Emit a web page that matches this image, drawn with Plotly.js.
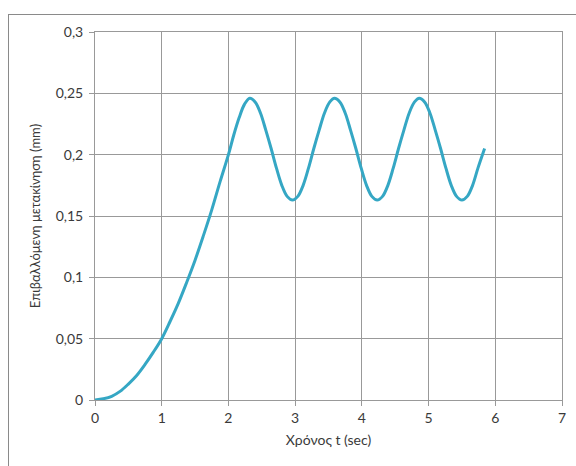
<!DOCTYPE html>
<html><head><meta charset="utf-8">
<script src="https://cdn.plot.ly/plotly-3.0.1.min.js"></script>
<style>
html,body{margin:0;padding:0;background:#fff;}
#wrap{position:relative;width:576px;height:466px;overflow:hidden;}
#chart{width:576px;height:466px;}
#frame{position:absolute;left:8px;top:14px;width:620px;height:520px;border:1.5px solid #8a8a8a;pointer-events:none;}
</style></head>
<body>
<div id="wrap"><div id="chart"></div><div id="frame"></div></div>
<script>
var timeSec = [0, 0.125, 0.25, 0.375, 0.5, 0.625, 0.75, 0.875, 1.0, 1.125, 1.25, 1.375, 1.5, 1.625, 1.75, 1.875, 2.0, 2.08, 2.16, 2.24,
  2.32, 2.40, 2.48, 2.56, 2.64, 2.72, 2.80, 2.88, 2.96, 3.04, 3.12, 3.20, 3.28, 3.36, 3.44, 3.52,
  3.59, 3.67, 3.75, 3.83, 3.91, 3.99, 4.07, 4.15, 4.23, 4.31, 4.39, 4.47, 4.55, 4.63, 4.71, 4.79,
  4.86, 4.94, 5.02, 5.10, 5.18, 5.26, 5.34, 5.42, 5.50, 5.58, 5.66, 5.74, 5.84];
var displacementMm = [0, 0.001, 0.003, 0.007, 0.013, 0.020, 0.029, 0.039, 0.050, 0.064, 0.079, 0.096, 0.114, 0.134, 0.155, 0.178, 0.200, 0.216, 0.230, 0.241,
  0.246, 0.243, 0.234, 0.220, 0.205, 0.189, 0.175, 0.166, 0.163, 0.166, 0.175, 0.189, 0.205, 0.220, 0.234, 0.243,
  0.246, 0.243, 0.234, 0.220, 0.205, 0.189, 0.175, 0.166, 0.163, 0.166, 0.175, 0.189, 0.205, 0.220, 0.234, 0.243,
  0.246, 0.243, 0.234, 0.220, 0.205, 0.189, 0.175, 0.166, 0.163, 0.166, 0.175, 0.189, 0.205];
var xTitle = 'Χρόνος t (sec)';
var yTitle = 'Επιβαλλόμενη μετακίνηση (mm)';

var trace = {
  x: timeSec, y: displacementMm, type: 'scatter', mode: 'lines',
  line: {color: '#35a7c4', width: 3, shape: 'spline', smoothing: 1},
  hoverinfo: 'skip'
};
var fam = 'Lato, "Open Sans", sans-serif';
var txt = '#3a3a3a';
var layout = {
  width: 576, height: 466,
  margin: {l: 95, r: 14, t: 32, b: 66},
  paper_bgcolor: 'rgba(0,0,0,0)', plot_bgcolor: '#fff',
  separators: ', ',
  font: {family: fam, size: 13, color: txt},
  showlegend: false,
  xaxis: {
    range: [0, 7], dtick: 1, tick0: 0, showgrid: true, gridcolor: '#999', gridwidth: 1,
    zeroline: false, showline: true, linecolor: '#999', linewidth: 1, mirror: true,
    ticks: 'outside', ticklen: 5, tickcolor: '#999',
    tickfont: {family: fam, size: 14, color: txt},
    title: {text: xTitle, font: {family: fam, size: 14, color: txt}, standoff: 10}
  },
  yaxis: {
    range: [0, 0.3], dtick: 0.05, tick0: 0, showgrid: true, gridcolor: '#999', gridwidth: 1,
    zeroline: false, showline: true, linecolor: '#999', linewidth: 1, mirror: true,
    ticks: 'outside', ticklen: 5, tickcolor: '#999', ticklabelstandoff: 3,
    tickfont: {family: fam, size: 14, color: txt},
    title: {text: yTitle, font: {family: fam, size: 13, color: txt}, standoff: 12}
  }
};
Plotly.newPlot('chart', [trace], layout, {staticPlot: true, displayModeBar: false});
</script>
</body></html>
